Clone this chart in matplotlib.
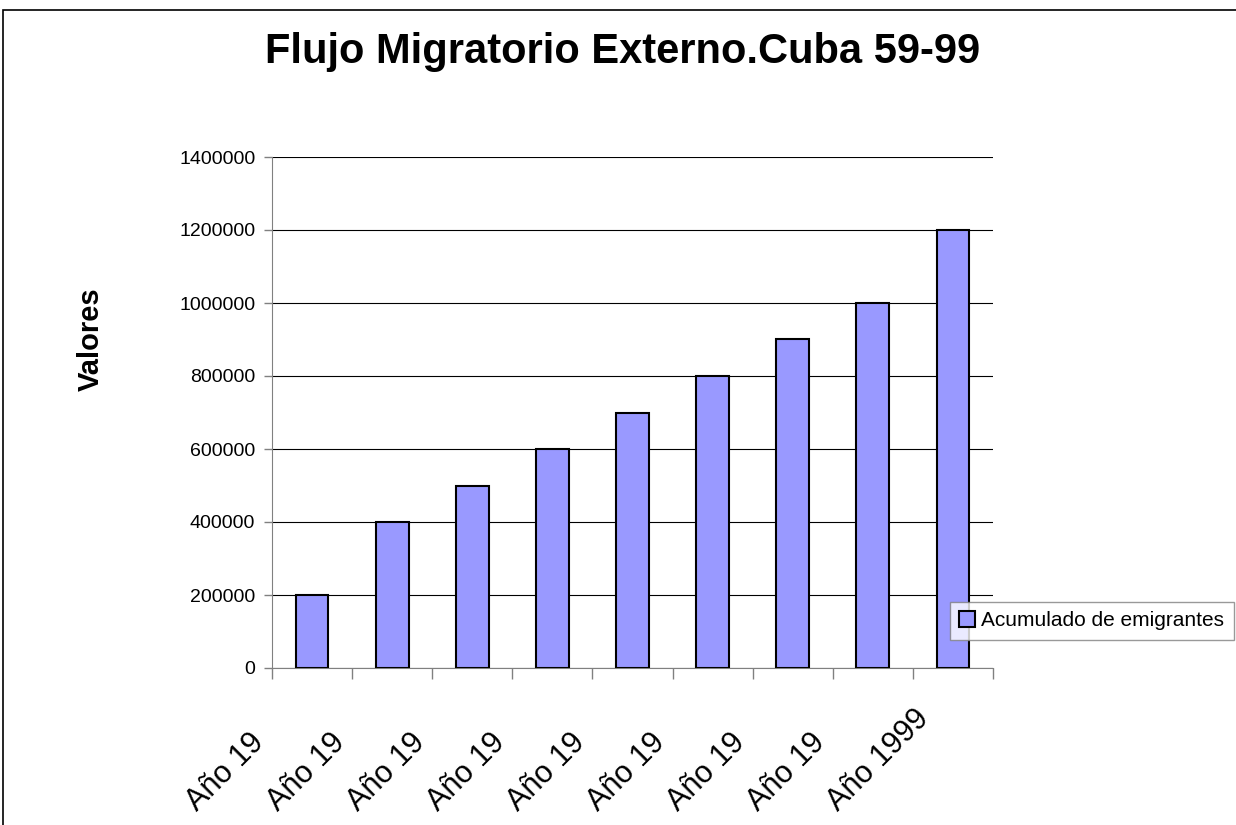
import numpy as np
import matplotlib
matplotlib.use("Agg")
import matplotlib.pyplot as plt
from matplotlib.patches import Rectangle
from matplotlib.transforms import blended_transform_factory

categorias = ["Año 19", "Año 19", "Año 19", "Año 19", "Año 19",
              "Año 19", "Año 19", "Año 19", "Año 1999"]
valores = [200000, 400000, 500000, 600000, 700000, 800000, 900000, 1000000, 1200000]
serie = "Acumulado de emigrantes"
titulo = "Flujo Migratorio Externo.Cuba 59-99"
yticks = [0, 200000, 400000, 600000, 800000, 1000000, 1200000, 1400000]

plt.rcParams['font.family'] = ['Liberation Sans', 'DejaVu Sans']

fig = plt.figure(figsize=(12.36, 8.25), dpi=100)
ax = fig.add_axes([272 / 1236, 1 - 668 / 825, 721 / 1236, 511 / 825])

x = np.arange(len(valores))
ax.bar(x, valores, width=0.41, color='#9999FF', edgecolor='black', linewidth=1.5,
       label=serie, zorder=3)

ax.set_xlim(-0.5, len(valores) - 0.5)
ax.set_ylim(0, 1400000)
ax.set_yticks(yticks)
ax.set_yticklabels([str(v) for v in yticks], fontsize=14)
ax.yaxis.grid(True, color='black', linewidth=0.8, zorder=0)
ax.tick_params(axis='y', direction='out', length=6, width=1, color='#808080', pad=6)

# ticks on the category boundaries, labels drawn separately
ax.set_xticks(np.arange(len(valores) + 1) - 0.5)
ax.set_xticklabels([])
ax.tick_params(axis='x', direction='out', length=8, width=1, color='#808080')

for s in ['top', 'right']:
    ax.spines[s].set_visible(False)
ax.spines['left'].set_color('#808080')
ax.spines['bottom'].set_color('#808080')

# category labels: start at a fixed point, cut off like the original
trans = blended_transform_factory(ax.transData, ax.transAxes)
for i, lab in enumerate(categorias):
    t = ax.text(i - 1.43, -0.282, lab, rotation=45, rotation_mode='anchor',
                ha='left', va='baseline', fontsize=22, transform=trans,
                clip_on=False)
    if i < len(categorias) - 1:
        clip = Rectangle((-10, -1), i - 0.62 + 10, 2, transform=trans,
                         facecolor='none', edgecolor='none')
        t.set_clip_path(clip)
        t.set_clip_on(True)

fig.text(0.504, 1 - 63 / 825, titulo, ha='center', va='baseline',
         fontsize=30, fontweight='bold')
fig.text(91 / 1236, 1 - 339 / 825, "Valores", ha='center', va='center',
         rotation=90, fontsize=21, fontweight='bold')

leg = fig.legend(loc='upper left', bbox_to_anchor=(950 / 1236, 1 - 602 / 825),
                 fontsize=15, frameon=True, fancybox=False, borderpad=0.45,
                 handlelength=0.75, handleheight=0.75, handletextpad=0.3,
                 borderaxespad=0)
leg.get_frame().set_edgecolor('#808080')
leg.get_frame().set_linewidth(1)

# outer chart border
fig.patches.append(Rectangle((3 / 1236, -0.1), 2, 1.1 - 10 / 825,
                             transform=fig.transFigure, fill=False,
                             edgecolor='black', linewidth=1.2))

fig.savefig("out.png", dpi=100)
